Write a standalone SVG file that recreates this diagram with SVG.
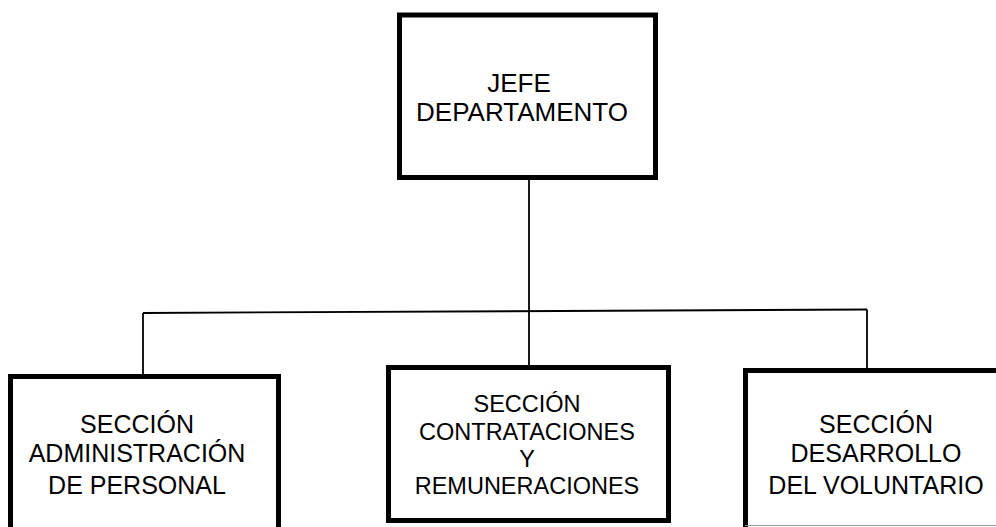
<svg xmlns="http://www.w3.org/2000/svg" width="996" height="527" viewBox="0 0 996 527">
<style>
.box{fill:#fff;stroke:#000;stroke-width:5}
.conn{fill:none;stroke:#000;stroke-width:1.8}
text{font-family:"Liberation Sans",Arial,sans-serif;fill:#000;text-anchor:middle}
</style>
<rect width="996" height="527" fill="#fff"/>
<g id="connectors">
<line class="conn" x1="529" y1="179" x2="529" y2="311"/>
<line class="conn" x1="143" y1="313" x2="867" y2="309.5"/>
<line class="conn" x1="143" y1="313" x2="143" y2="376"/>
<line class="conn" x1="529" y1="311" x2="529" y2="367"/>
<line class="conn" x1="867" y1="309.5" x2="867" y2="370"/>
</g>
<g id="jefe">
<rect class="box" x="399.5" y="15" width="256" height="162.5"/>
<text font-size="26" x="519" y="92">JEFE</text>
<text font-size="26" x="522" y="121">DEPARTAMENTO</text>
</g>
<g id="admin">
<rect class="box" x="10.5" y="376.5" width="268" height="170"/>
<text font-size="25" x="137" y="433">SECCIÓN</text>
<text font-size="25" x="137" y="462">ADMINISTRACIÓN</text>
<text font-size="25" x="137" y="494">DE PERSONAL</text>
</g>
<g id="contrat">
<rect class="box" x="388.5" y="367.5" width="280" height="153"/>
<text font-size="23.5" x="527" y="412">SECCIÓN</text>
<text font-size="23.5" x="527" y="440">CONTRATACIONES</text>
<text font-size="23.5" x="527" y="467">Y</text>
<text font-size="23.5" x="527" y="494">REMUNERACIONES</text>
</g>
<g id="desarrollo">
<rect class="box" x="745.5" y="370.5" width="270" height="170"/>
<line x1="745" y1="525.5" x2="996" y2="525.5" stroke="#999" stroke-width="1"/>
<text font-size="25" x="876" y="433">SECCIÓN</text>
<text font-size="25" x="876" y="462">DESARROLLO</text>
<text font-size="25" x="876" y="494">DEL VOLUNTARIO</text>
</g>
</svg>
